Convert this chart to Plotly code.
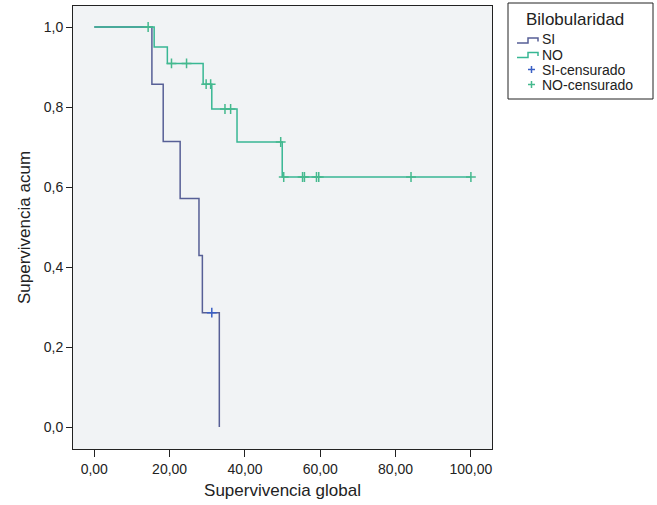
import plotly.graph_objects as go

# ---- data ----
si_time = [0, 15.3, 18.3, 22.8, 27.8, 28.7, 33.2]
si_surv = [1.0, 0.857, 0.714, 0.571, 0.4286, 0.2857, 0.0]
si_cens_time = [31.2]
si_cens_surv = [0.2857]

no_time = [0, 15.9, 19.4, 28.9, 31.2, 37.9, 49.9, 100.0]
no_surv = [1.0, 0.95, 0.909, 0.857, 0.795, 0.7125, 0.625, 0.625]
no_cens_time = [14.3, 20.5, 24.5, 29.7, 30.9, 34.7, 36.2, 49.5, 50.3, 55.3, 55.8, 59.0, 59.6, 84.1, 100.0]
no_cens_surv = [1.0, 0.909, 0.909, 0.857, 0.857, 0.795, 0.795, 0.7125, 0.625, 0.625, 0.625, 0.625, 0.625, 0.625, 0.625]

x_ticks = [0, 20, 40, 60, 80, 100]
y_ticks = [0, 0.2, 0.4, 0.6, 0.8, 1.0]
legend_title = "Bilobularidad"
legend_labels = ["SI", "NO", "SI-censurado", "NO-censurado"]

blue = "#575f96"
green = "#38b794"
blue_c = "#3a5fc4"
green_c = "#45b98e"

FONT = "Liberation Sans, Arial, sans-serif"

fig = go.Figure()
fig.add_trace(go.Scatter(x=si_time, y=si_surv, mode="lines", line=dict(shape="hv", color=blue, width=1.5),
                         name="SI", showlegend=False, hoverinfo="skip"))
fig.add_trace(go.Scatter(x=no_time, y=no_surv, mode="lines", line=dict(shape="hv", color=green, width=1.5),
                         name="NO", showlegend=False, hoverinfo="skip"))
fig.add_trace(go.Scatter(x=si_cens_time, y=si_cens_surv, mode="markers",
                         marker=dict(symbol="cross-thin", size=7, line=dict(color=blue_c, width=1.5)),
                         name="SI-censurado", showlegend=False))
fig.add_trace(go.Scatter(x=no_cens_time, y=no_cens_surv, mode="markers",
                         marker=dict(symbol="cross-thin", size=7, line=dict(color=green_c, width=1.5)),
                         name="NO-censurado", showlegend=False))

# plot area in pixels: x 73..492, y 6..449
L, R, T, B = 73, 492, 6, 449
def px(x):
    return (x - L) / (R - L)
def py(y):
    return (B - y) / (B - T)

shapes = []
annotations = []
# legend box
shapes.append(dict(type="rect", xref="paper", yref="paper", x0=px(508), x1=px(653), y0=py(99), y1=py(3),
                   line=dict(color="#222222", width=1), fillcolor="white", layer="above"))
annotations.append(dict(xref="paper", yref="paper", x=px(524), y=py(18.5), text=legend_title, showarrow=False,
                        xanchor="left", yanchor="middle", height=18,
                        font=dict(size=17, color="#222222", family=FONT)))
ys = [39.5, 54.5, 69.5, 84.5]
for lab, yy in zip(legend_labels, ys):
    annotations.append(dict(xref="paper", yref="paper", x=px(541), y=py(yy), text=lab, showarrow=False,
                            xanchor="left", yanchor="middle", height=12, borderpad=0,
                            font=dict(size=14, color="#222222", family=FONT)))
# step icons
for col, yy in [(blue, ys[0] + 0.5), (green, ys[1])]:
    path = "M {} {} L {} {} L {} {} L {} {} L {} {}".format(
        px(517), py(yy + 3), px(528), py(yy + 3), px(528), py(yy - 2), px(538), py(yy - 2), px(538), py(yy + 1.5))
    shapes.append(dict(type="path", xref="paper", yref="paper", path=path, line=dict(color=col, width=1.5),
                       layer="above"))
# censored "+" icons drawn as small crosses
for col, yy in [(blue_c, ys[2]), (green_c, ys[3])]:
    shapes.append(dict(type="line", xref="paper", yref="paper", x0=px(528), x1=px(535), y0=py(yy), y1=py(yy),
                       line=dict(color=col, width=1.5), layer="above"))
    shapes.append(dict(type="line", xref="paper", yref="paper", x0=px(531.5), x1=px(531.5), y0=py(yy - 3.5),
                       y1=py(yy + 3.5), line=dict(color=col, width=1.5), layer="above"))

fig.update_layout(
    width=657, height=505,
    margin=dict(l=L, r=657 - R, t=T, b=505 - B),
    paper_bgcolor="white", plot_bgcolor="#f1f3f5",
    separators=",.",
    font=dict(family=FONT, size=14, color="#222222"),
    shapes=shapes, annotations=annotations,
    showlegend=False,
)
fig.update_xaxes(range=[-5.65, 105.6], tickvals=x_ticks, tickformat=".2f", ticks="outside", ticklen=7,
                 tickcolor="#222222", showline=True, linecolor="#222222", linewidth=1, mirror=True,
                 showgrid=False, zeroline=False, title=dict(text="Supervivencia global", font=dict(size=17), standoff=8),
                 tickfont=dict(size=14))
fig.update_yaxes(range=[-0.055, 1.0525], tickvals=y_ticks, tickformat=".1f", ticks="outside", ticklen=6,
                 tickcolor="#222222", showline=True, linecolor="#222222", linewidth=1, mirror=True,
                 showgrid=False, zeroline=False, title=dict(text="Supervivencia acum", font=dict(size=17), standoff=8),
                 tickfont=dict(size=14))

fig.write_html("out.html")
